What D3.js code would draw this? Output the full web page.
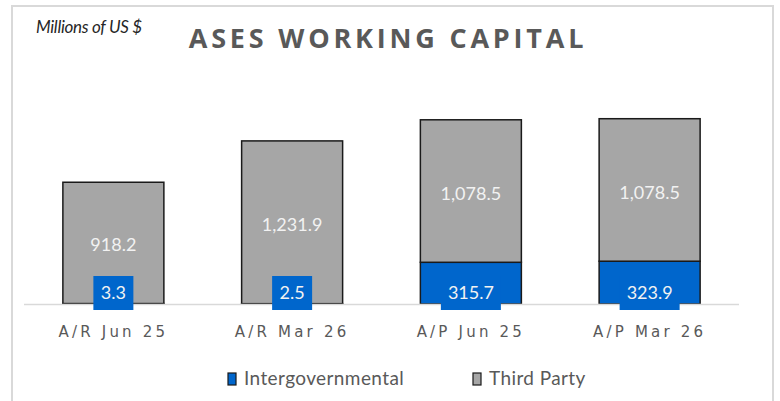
<!DOCTYPE html>
<html>
<head>
<meta charset="utf-8">
<script src="https://cdn.jsdelivr.net/npm/d3@7"></script>
<style>
  body { margin: 0; background: #fff; }
  svg { display: block; }
</style>
</head>
<body>
<script>
// Chart data
const categories = ["A/R Jun 25", "A/R Mar 26", "A/P Jun 25", "A/P Mar 26"];
const intergov = [3.3, 2.5, 315.7, 323.9];
const thirdParty = [918.2, 1231.9, 1078.5, 1078.5];
const seriesNames = ["Intergovernmental", "Third Party"];

const width = 780;
const height = 401;
const blue = "#0066cc";
const gray = "#a6a6a6";
const textGray = "#595959";

const svg = d3.select("body")
  .append("svg")
  .attr("width", width)
  .attr("height", height);

// Chart frame
svg.append("rect")
  .attr("x", 12).attr("y", 6)
  .attr("width", 761).attr("height", 420)
  .attr("fill", "#fff")
  .attr("stroke", "#d9d9d9")
  .attr("stroke-width", 2);

// Scales
const x = d3.scaleBand()
  .domain(categories)
  .range([24, 739])
  .paddingInner(0.435)
  .paddingOuter(0.2175);

const y = d3.scaleLinear()
  .domain([0, 1600])
  .range([304, 92.6]);

// Stack the two series
const rows = categories.map((c, i) => ({ cat: c, intergov: intergov[i], third: thirdParty[i] }));
const stacked = d3.stack().keys(["intergov", "third"])(rows);
const colors = [blue, gray];

const layers = svg.append("g")
  .selectAll("g")
  .data(stacked)
  .join("g")
  .attr("fill", (d, i) => colors[i]);

layers.selectAll("rect")
  .data(d => d)
  .join("rect")
  .attr("x", d => x(d.data.cat))
  .attr("y", d => y(d[1]))
  .attr("width", x.bandwidth())
  .attr("height", d => y(d[0]) - y(d[1]))
  .attr("stroke", "#1a1a1a")
  .attr("stroke-width", 1.5);

// Axis baseline
svg.append("line")
  .attr("x1", 24).attr("x2", 739)
  .attr("y1", y(0) + 0.5).attr("y2", y(0) + 0.5)
  .attr("stroke", "#d9d9d9")
  .attr("stroke-width", 1.5);

// Third party labels (centred in their segment)
svg.append("g")
  .selectAll("text")
  .data(stacked[1])
  .join("text")
  .attr("x", d => x(d.data.cat) + x.bandwidth() / 2)
  .attr("y", d => (y(d[0]) + y(d[1])) / 2 + 4)
  .attr("text-anchor", "middle")
  .attr("dominant-baseline", "middle")
  .attr("font-family", "Lato, sans-serif")
  .attr("font-size", 18)
  .attr("fill", "#f2f2f2")
  .text(d => d3.format(",.1f")(d.data.third));

// Intergovernmental labels with a blue box
const blueLabels = svg.append("g")
  .selectAll("g")
  .data(stacked[0])
  .join("g")
  .attr("transform", d => `translate(${x(d.data.cat) + x.bandwidth() / 2},${y(0) - 11})`);

blueLabels.append("rect")
  .attr("x", d => d.data.intergov < 10 ? -20 : -30)
  .attr("y", -17)
  .attr("width", d => d.data.intergov < 10 ? 40 : 60)
  .attr("height", 34)
  .attr("fill", blue);

blueLabels.append("text")
  .attr("text-anchor", "middle")
  .attr("dominant-baseline", "middle")
  .attr("y", 1)
  .attr("font-family", "Lato, sans-serif")
  .attr("font-size", 18)
  .attr("fill", "#f2f2f2")
  .text(d => d3.format(",.1f")(d.data.intergov));

// Category labels
svg.append("g")
  .selectAll("text")
  .data(categories)
  .join("text")
  .attr("x", d => x(d) + x.bandwidth() / 2)
  .attr("y", 337)
  .attr("text-anchor", "middle")
  .attr("font-family", "DejaVu Sans, sans-serif")
  .attr("font-size", 15)
  .attr("letter-spacing", 3.2)
  .attr("fill", textGray)
  .text(d => d);

// Title and unit note
svg.append("text")
  .attr("x", 388)
  .attr("y", 48)
  .attr("text-anchor", "middle")
  .attr("font-family", "Open Sans, sans-serif")
  .attr("font-weight", "bold")
  .attr("font-size", 27)
  .attr("letter-spacing", 3.8)
  .attr("fill", textGray)
  .text("ASES WORKING CAPITAL");

svg.append("text")
  .attr("x", 36)
  .attr("y", 33)
  .attr("font-family", "Lato, sans-serif")
  .attr("font-style", "italic")
  .attr("font-size", 17)
  .attr("letter-spacing", -0.3)
  .attr("fill", "#262626")
  .text("Millions of US $");

// Legend
const legendX = [228, 473];
const legend = svg.append("g")
  .selectAll("g")
  .data(seriesNames)
  .join("g")
  .attr("transform", (d, i) => `translate(${legendX[i]},373)`);

legend.append("rect")
  .attr("width", 8)
  .attr("height", 12)
  .attr("fill", (d, i) => colors[i])
  .attr("stroke", "#1a1a1a")
  .attr("stroke-width", 1.2);

legend.append("text")
  .attr("x", 16)
  .attr("y", 12)
  .attr("font-family", "Lato, sans-serif")
  .attr("font-size", 19)
  .attr("letter-spacing", 0.4)
  .attr("fill", textGray)
  .text(d => d);
</script>
</body>
</html>
